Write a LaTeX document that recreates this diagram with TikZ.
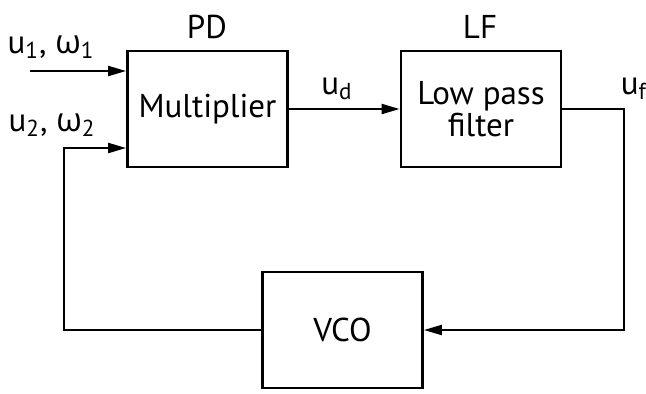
\documentclass[tikz,border=0pt]{standalone}
\usepackage{fontspec}
\setmainfont{PT Sans}
\newfontfamily\grk{Open Sans}
\usetikzlibrary{positioning,arrows.meta}
\newcommand{\om}{{\grk ω}}

\begin{document}
\begin{tikzpicture}[x=0.5pt,y=-0.5pt,
  every node/.style={font=\fontsize{16.5}{18}\selectfont},
  block/.style={draw,line width=1.4pt,align=center,minimum width=80pt,minimum height=58pt,inner sep=0pt},
  arrow/.style={-{Triangle[length=9pt,width=5pt]},line width=1.1pt}
]
  \useasboundingbox (0,0) rectangle (646,393);
  % blocks
  \node[block] (mult) at (207.5,109) {Multiplier};
  \node[block] (lpf) at (481,109) {Low pass\\[-2pt] filter};
  \node[block] (vco) at (342.5,330) {VCO};
  % block titles
  \node (pd) at (207,27) {PD};
  \node (lf) at (480,27) {LF};
  % signals
  \coordinate (in1) at (30,71);
  \coordinate (fb) at (64,148);
  \coordinate (turn) at (624,109);
  \node (u1) at (51,47) {u\textsubscript{1}, \om\textsubscript{1}};
  \node (u2) at (52,125) {u\textsubscript{2}, \om\textsubscript{2}};
  \node (ud) at (337,89) {u\textsubscript{d}};
  \node (uf) at (634,89) {u\textsubscript{f}};
  \draw[arrow] (in1) -- (in1 -| mult.west);
  \draw[arrow] (mult.east) -- (lpf.west);
  \draw[arrow] (lpf.east) -- (turn) |- (vco.east);
  \draw[arrow] (vco.west) -| (fb) -- (fb -| mult.west);
\end{tikzpicture}
\end{document}
